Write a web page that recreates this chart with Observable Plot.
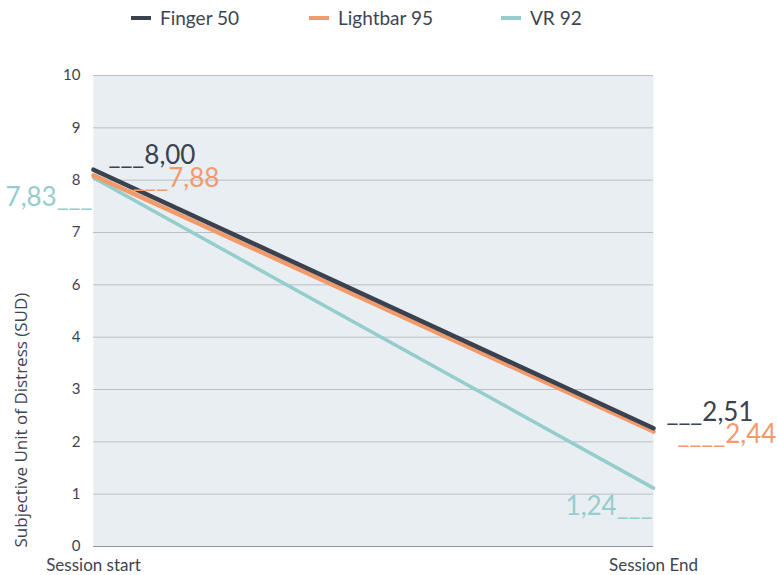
<!DOCTYPE html>
<html><head><meta charset="utf-8">
<script src="https://cdn.jsdelivr.net/npm/d3@7"></script>
<script src="https://cdn.jsdelivr.net/npm/@observablehq/plot@0.6"></script>
<style>
body{margin:0;background:#fff;font-family:Lato,"Open Sans",sans-serif;}
#legend{position:relative;height:40px;width:778px;}
.item{position:absolute;top:6px;display:flex;align-items:center;font-size:19px;color:#3d4552;}
.sw{width:20px;height:4px;margin-right:9px;}
</style></head>
<body>
<div id="legend"></div>
<div id="chart"></div>
<script>
const sessions = ["Session start", "Session End"];
const seriesNames = ["Finger 50", "Lightbar 95", "VR 92"];
const finger = [8.00, 2.51];
const lightbar = [7.88, 2.44];
const vr = [7.83, 1.24];
// tick labels as printed on the reference axis (it skips 5)
const yTickLabels = ["10", "9", "8", "7", "6", "4", "3", "2", "1", "0"];
const colors = ["#3a4250", "#f29a6a", "#95cdcc"];
const yLabel = "Subjective Unit of Distress (SUD)";

const fmt = v => v.toFixed(2).replace(".", ",");
const rows = [];
[finger, lightbar, vr].forEach((vals, s) => vals.forEach((v, i) => rows.push({series: seriesNames[s], session: sessions[i], value: v, si: s, i})));

// the printed tick labels are spread evenly across the 0–10 frame
const nT = yTickLabels.length;
const tickPos = yTickLabels.map((t, k) => 10 * (nT - 1 - k) / (nT - 1));
const tickMap = new Map(tickPos.map((p, k) => [p, yTickLabels[k]]));

// legend
const legendX = [131, 309, 501];
const lg = document.getElementById("legend");
seriesNames.forEach((n, k) => {
  const d = document.createElement("div");
  d.className = "item";
  d.style.left = legendX[k] + "px";
  d.innerHTML = `<span class="sw" style="background:${colors[k]}"></span><span>${n}</span>`;
  lg.appendChild(d);
});

const pick = (s, i) => rows.filter(r => r.si === s && r.i === i);
const labelMark = (s, i, text, anchor, dx, dy) => Plot.text(pick(s, i), {
  x: "session", y: "value", text: d => text(fmt(d.value)), textAnchor: anchor,
  dx, dy, fill: colors[s], fontSize: 26, fontFamily: "Lato, sans-serif"
});

const chart = Plot.plot({
  width: 778, height: 535,
  marginLeft: 93, marginRight: 125, marginTop: 35, marginBottom: 29,
  x: {type: "point", domain: sessions, padding: 0, label: null},
  y: {domain: [0, 10], label: null},
  style: {fontFamily: "Lato, sans-serif", color: "#3d4552", background: "#fff"},
  marks: [
    Plot.frame({fill: "#e9eef3", stroke: null}),
    Plot.gridY(tickPos.filter(p => p > 0), {stroke: "#b8bfc8", strokeOpacity: 1, strokeWidth: 1}),
    Plot.ruleY([0], {stroke: "#8a929c", strokeWidth: 1.2}),
    Plot.axisY(tickPos, {tickSize: 0, tickPadding: 13, fontSize: 15, label: null, fill: "#3d4552", tickFormat: d => tickMap.get(d)}),
    Plot.axisX({tickSize: 0, tickPadding: 12, fontSize: 17, label: null, fill: "#3d4552"}),
    Plot.text([yLabel], {frameAnchor: "bottom-left", textAnchor: "start", rotate: -90, dx: -67, dy: 1, fontSize: 17, fontFamily: "'Open Sans', sans-serif", fill: "#3d4552"}),
    Plot.line(rows.filter(r => r.si === 2), {x: "session", y: "value", stroke: colors[2], strokeWidth: 3.5}),
    Plot.line(rows.filter(r => r.si === 1), {x: "session", y: "value", stroke: colors[1], strokeWidth: 4.5}),
    Plot.line(rows.filter(r => r.si === 0), {x: "session", y: "value", stroke: colors[0], strokeWidth: 4.5}),
    labelMark(0, 0, t => "___" + t, "start", 15, -14),
    labelMark(1, 0, t => "____" + t, "start", 27, 3),
    labelMark(2, 0, t => t + "___", "end", -1, 20),
    labelMark(0, 1, t => "___" + t, "start", 13, -16),
    labelMark(1, 1, t => "____" + t, "start", 24, 3),
    labelMark(2, 1, t => t + "___", "end", -1, 19)
  ]
});
document.getElementById("chart").appendChild(chart);
</script>
</body></html>
